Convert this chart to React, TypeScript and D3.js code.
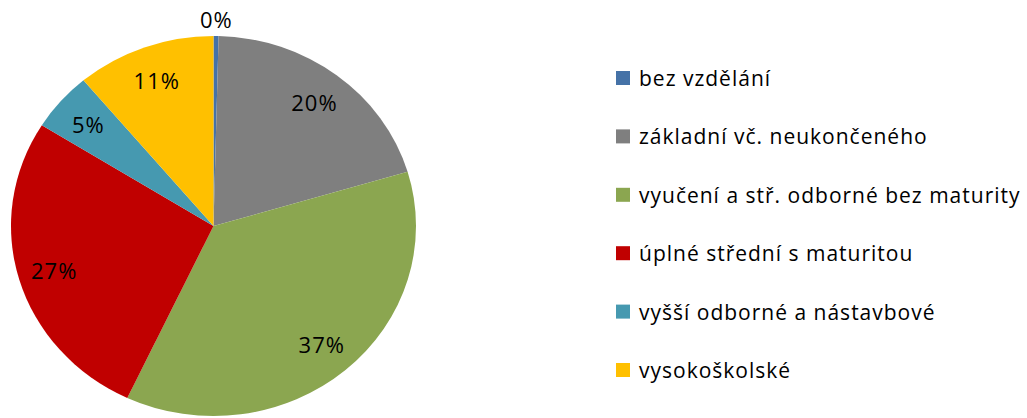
import { useEffect, useRef } from "react"
import * as d3 from "d3"

const categories = [
  "bez vzdělání",
  "základní vč. neukončeného",
  "vyučení a stř. odborné bez maturity",
  "úplné střední s maturitou",
  "vyšší odborné a nástavbové",
  "vysokoškolské",
]
const shares = [0.4, 20.0, 36.6, 26.9, 5.0, 11.1]
const colors = ["#4572A7", "#7F7F7F", "#8BA650", "#C00000", "#4699B0", "#FFC000"]

const FONT = "'Open Sans', Lato, sans-serif"

const App = () => {
  const svgRef = useRef<SVGSVGElement>(null)

  useEffect(() => {
    if (!svgRef.current) return
    const svg = d3.select(svgRef.current)
    svg.selectAll("*").remove()

    const width = 1027
    const height = 418
    const cx = 213.5
    const cy = 226
    const rx = 202.5
    const ry = 190
    const sy = ry / rx

    const data = categories.map((name, i) => ({ name, value: shares[i], color: colors[i] }))

    const pie = d3
      .pie<(typeof data)[0]>()
      .value((d) => d.value)
      .sort(null)
    const arcs = pie(data)

    const arc = d3.arc<d3.PieArcDatum<(typeof data)[0]>>().innerRadius(0).outerRadius(rx)

    // the original pie is a little squashed vertically
    const g = svg.append("g").attr("transform", `translate(${cx},${cy}) scale(1,${sy})`)
    g.selectAll("path")
      .data(arcs)
      .enter()
      .append("path")
      .attr("d", arc)
      .attr("fill", (d) => d.data.color)

    // percentage labels
    const labels = svg.append("g").attr("transform", `translate(${cx},${cy})`)
    arcs.forEach((d) => {
      const mid = (d.startAngle + d.endAngle) / 2
      const r = d.data.value < 1 ? rx * 1.09 : rx * 0.82
      const x = Math.sin(mid) * r
      const y = -Math.cos(mid) * r * sy
      labels
        .append("text")
        .attr("x", x)
        .attr("y", y)
        .attr("text-anchor", "middle")
        .attr("dominant-baseline", "central")
        .attr("font-family", FONT)
        .attr("font-size", 22)
        .attr("letter-spacing", 1)
        .attr("fill", "#000")
        .text(`${Math.round(d.data.value)}%`)
    })

    // legend
    const legendY = d3
      .scalePoint()
      .domain(categories)
      .range([78, 370])
    const legend = svg.append("g")
    data.forEach((d) => {
      const y = legendY(d.name) || 0
      legend
        .append("rect")
        .attr("x", 616)
        .attr("y", y - 7)
        .attr("width", 14)
        .attr("height", 14)
        .attr("fill", d.color)
      legend
        .append("text")
        .attr("x", 639)
        .attr("y", y)
        .attr("dominant-baseline", "central")
        .attr("font-family", FONT)
        .attr("font-size", 21)
        .attr("letter-spacing", 1)
        .attr("fill", "#000")
        .text(d.name)
    })

    svg.attr("width", width).attr("height", height)
  }, [])

  return (
    <svg
      ref={svgRef}
      width={1027}
      height={418}
      style={{ position: "absolute", left: 0, top: 0, background: "#fff" }}
    ></svg>
  )
}

export default App
